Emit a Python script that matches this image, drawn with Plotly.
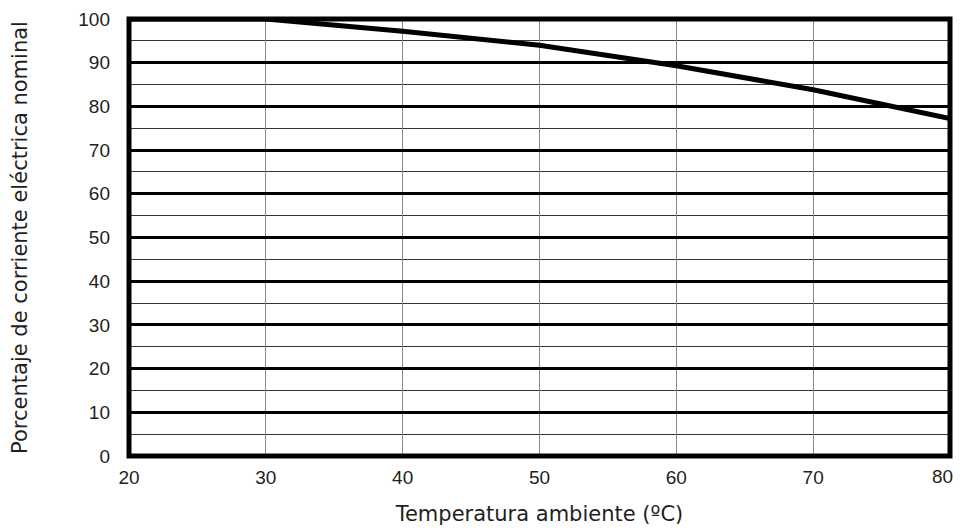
import plotly.graph_objects as go

temperature = [20, 30, 40, 50, 60, 70, 80]
percent = [100, 100, 97.2, 94.0, 89.3, 83.8, 77.2]

x_ticks = [20, 30, 40, 50, 60, 70, 80]
x_tick_text = ["20", "30", "40", "50", "60", "70", ""]  # last label drawn as annotation so it stays inside the page
last_x_label = "80"
y_ticks = [0, 10, 20, 30, 40, 50, 60, 70, 80, 90, 100]

fig = go.Figure()
fig.add_trace(go.Scatter(x=temperature, y=percent, mode="lines",
                         line=dict(color="black", width=5), showlegend=False))

tick_font = dict(family="Liberation Sans, Arial, sans-serif", size=19, color="#231f20")
title_font = dict(family="DejaVu Sans, sans-serif", size=21, color="#231f20")

# page body has an 8px margin, so the figure is sized to fit the 963x530 window
fig.update_layout(
    width=955, height=522,
    margin=dict(l=121, r=13, t=11, b=74),
    paper_bgcolor="white", plot_bgcolor="white",
    font=tick_font,
    xaxis=dict(range=[20, 80], tickvals=x_ticks, ticktext=x_tick_text,
               showgrid=True, gridcolor="#8a8a8a", gridwidth=1,
               showline=False, zeroline=False,
               ticks="", ticklabelstandoff=8, tickfont=tick_font, automargin=False,
               title=dict(text="Temperatura ambiente (ºC)", standoff=19, font=title_font)),
    yaxis=dict(range=[0, 100], tickvals=y_ticks, showgrid=True, gridcolor="black", gridwidth=3,
               minor=dict(dtick=5, tick0=0, showgrid=True, gridcolor="#333333", gridwidth=1.3),
               showline=False, zeroline=False,
               ticks="", ticklabelstandoff=18, tickfont=tick_font, automargin=False,
               title=dict(text="Porcentaje de corriente eléctrica nominal", standoff=54, font=title_font)),
    shapes=[dict(type="rect", xref="paper", yref="paper", x0=0, x1=1, y0=0, y1=1,
                 line=dict(color="black", width=5), layer="above")],
    annotations=[dict(x=x_ticks[-1], y=0, xref="x", yref="paper", text=last_x_label,
                      showarrow=False, xanchor="right", yanchor="top", xshift=5, yshift=-8,
                      font=tick_font)],
)

fig.write_html("out.html")
